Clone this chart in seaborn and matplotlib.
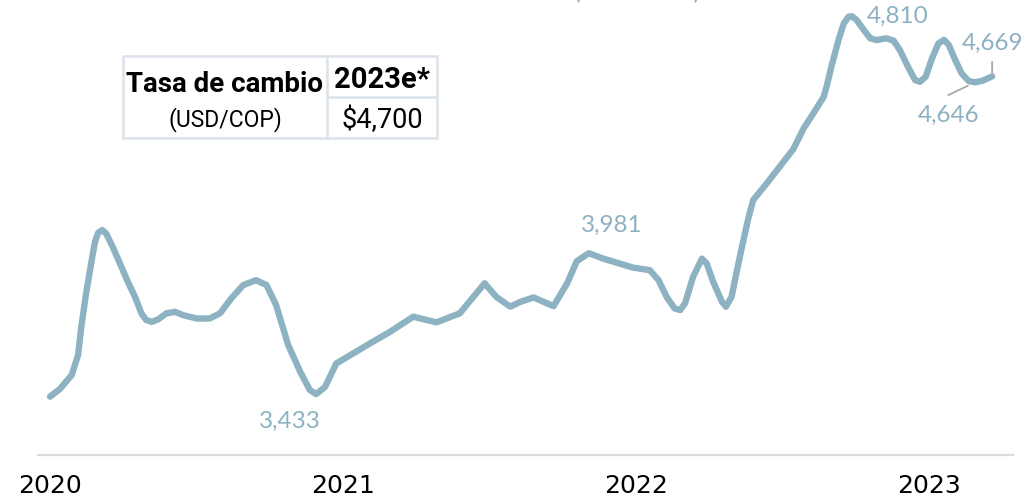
import matplotlib
matplotlib.use("Agg")
import matplotlib.pyplot as plt
import matplotlib.dates as mdates
from matplotlib.patches import Rectangle
from matplotlib.lines import Line2D
import pandas as pd
import seaborn as sns

# Tasa de cambio USD/COP (serie suavizada)
fechas = [
    "2020-01-01", "2020-01-13", "2020-01-28", "2020-02-05", "2020-02-09", "2020-02-15",
    "2020-02-22", "2020-02-26", "2020-03-01", "2020-03-06", "2020-03-11", "2020-03-20",
    "2020-03-30", "2020-04-07", "2020-04-16", "2020-04-24", "2020-04-30", "2020-05-07",
    "2020-05-15", "2020-05-25", "2020-06-05", "2020-06-15", "2020-07-02", "2020-07-18",
    "2020-07-31", "2020-08-14", "2020-08-29", "2020-09-14", "2020-09-27", "2020-10-09",
    "2020-10-24", "2020-11-08", "2020-11-20", "2020-11-28", "2020-12-09", "2020-12-23",
    "2021-01-13", "2021-02-03", "2021-02-28", "2021-03-29", "2021-04-27", "2021-05-26",
    "2021-06-26", "2021-07-11", "2021-07-28", "2021-08-09", "2021-08-26", "2021-09-20",
    "2021-10-07", "2021-10-19", "2021-11-03", "2021-11-21", "2021-12-28", "2022-01-18",
    "2022-01-29", "2022-02-08", "2022-02-18", "2022-02-25", "2022-03-03", "2022-03-13",
    "2022-03-24", "2022-03-30", "2022-04-07", "2022-04-18", "2022-04-23", "2022-04-30",
    "2022-05-06", "2022-05-13", "2022-05-21", "2022-05-27", "2022-06-13", "2022-07-16",
    "2022-07-29", "2022-08-10", "2022-08-23", "2022-08-27", "2022-09-02", "2022-09-11",
    "2022-09-17", "2022-09-23", "2022-09-27", "2022-10-03", "2022-10-12", "2022-10-20",
    "2022-10-28", "2022-11-09", "2022-11-18", "2022-11-26", "2022-12-07", "2022-12-15",
    "2022-12-21", "2022-12-28", "2023-01-05", "2023-01-13", "2023-01-20", "2023-01-26",
    "2023-02-03", "2023-02-11", "2023-02-20", "2023-02-28", "2023-03-09", "2023-03-21",
]
tasa = [
    3423, 3452, 3507, 3585, 3695, 3825,
    3954, 4025, 4060, 4071, 4058, 4000,
    3928, 3870, 3811, 3747, 3721, 3714,
    3724, 3747, 3753, 3740, 3727, 3727,
    3747, 3805, 3857, 3876, 3857, 3779,
    3624, 3520, 3449, 3433, 3461, 3552,
    3591, 3630, 3675, 3734, 3712, 3747,
    3864, 3810, 3773, 3791, 3809, 3775,
    3864, 3950, 3981, 3960, 3925, 3915,
    3876, 3811, 3766, 3760, 3786, 3889,
    3960, 3941, 3870, 3792, 3773, 3811,
    3903, 4006, 4118, 4188, 4253, 4386,
    4467, 4525, 4590, 4635, 4713, 4817,
    4875, 4901, 4903, 4888, 4849, 4817,
    4810, 4817, 4808, 4771, 4700, 4654,
    4648, 4667, 4739, 4797, 4811, 4791,
    4732, 4680, 4650, 4646, 4652, 4669,
]

anios = ["2020", "2021", "2022", "2023"]

# Puntos destacados
fechas_etiqueta = ["2020-11-28", "2021-11-03", "2022-10-28", "2023-02-28", "2023-03-21"]
valores_etiqueta = [3433, 3981, 4810, 4646, 4669]

tabla_titulo = "Tasa de cambio"
tabla_unidad = "(USD/COP)"
tabla_columna = "2023e*"
tabla_valor = "$4,700"

AZUL = "#8DB2C2"
GRIS_EJE = "#DADADA"
BORDE_TABLA = "#DCE2EA"
GRIS_GUIA = "#A9A9A9"

sns.set_style("white")
plt.rcParams["font.family"] = ["Lato", "DejaVu Sans"]

df = pd.DataFrame({"fecha": pd.to_datetime(fechas), "tasa": tasa})

W, H = 1035, 498
fig = plt.figure(figsize=(W / 100, H / 100), dpi=100)
ax = fig.add_axes([38 / W, 43 / H, 975 / W, 455 / H])

sns.lineplot(data=df, x="fecha", y="tasa", ax=ax, color=AZUL, linewidth=4.6,
             solid_capstyle="round", solid_joinstyle="round")

ax.set_xlim(mdates.date2num(pd.Timestamp("2019-12-17")),
            mdates.date2num(pd.Timestamp("2023-04-16")))
ax.set_ylim(3196, 4966)

ax.set_xticks([pd.Timestamp(f"{a}-01-01") for a in anios])
ax.set_xticklabels(anios, family=["Liberation Sans Narrow", "DejaVu Sans"],
                   fontsize=18, color="black")
ax.tick_params(axis="x", length=0, pad=14)
ax.set_yticks([])
ax.set_xlabel("")
ax.set_ylabel("")
for lado in ["top", "right", "left"]:
    ax.spines[lado].set_visible(False)
ax.spines["bottom"].set_color(GRIS_EJE)
ax.spines["bottom"].set_linewidth(1.6)

# Etiquetas de valores
desplazamientos = {
    3433: (-19.2, -19.4),
    3981: (16.3, 20.2),
    4810: (15.3, 17.3),
    4646: (-19.4, -23.6),
    4669: (0.0, 24.0),
}
for f, v in zip(fechas_etiqueta, valores_etiqueta):
    ax.annotate(f"{v:,}", xy=(pd.Timestamp(f), v), xytext=desplazamientos[v],
                textcoords="offset points", ha="center", va="center",
                fontsize=17.5, color=AZUL)

# Líneas guía para los dos últimos valores
ax.annotate("", xy=(pd.Timestamp("2023-02-28"), 4646), xytext=(-19.4, -9.2),
            textcoords="offset points",
            arrowprops=dict(arrowstyle="-", color=GRIS_GUIA, lw=1.3,
                            shrinkA=0, shrinkB=6))
ax.annotate("", xy=(pd.Timestamp("2023-03-21"), 4669), xytext=(0, 10.5),
            textcoords="offset points",
            arrowprops=dict(arrowstyle="-", color=GRIS_GUIA, lw=1.3,
                            shrinkA=0, shrinkB=1))

# Título superior (cortado por el borde)
fig.text(637.5 / W, 1 + 1 / H, "(USD/COP)", ha="center", va="baseline",
         fontsize=18, color=AZUL)

# Tabla de pronóstico
def fx(x):
    return x / W

def fy(y):
    return 1 - y / H

fig.add_artist(Rectangle((fx(123), fy(138)), (437 - 123) / W, (138 - 56) / H,
                         transform=fig.transFigure, fill=False,
                         edgecolor=BORDE_TABLA, linewidth=1.8))
fig.add_artist(Line2D([fx(327), fx(327)], [fy(56), fy(138)],
                      transform=fig.transFigure, color=BORDE_TABLA, linewidth=1.8))
fig.add_artist(Line2D([fx(327), fx(437)], [fy(97), fy(97)],
                      transform=fig.transFigure, color=BORDE_TABLA, linewidth=1.8))

fuente_tabla = ["Roboto", "DejaVu Sans"]
fig.text(fx(224), fy(91.7), tabla_titulo, ha="center", va="baseline",
         fontsize=20, fontweight="bold", family=fuente_tabla, color="black")
fig.text(fx(225), fy(126.7), tabla_unidad, ha="center", va="baseline",
         fontsize=16.5, family=fuente_tabla, color="black")
fig.text(fx(382), fy(88.3), tabla_columna, ha="center", va="baseline",
         fontsize=21, fontweight="bold", family=fuente_tabla, color="black")
fig.text(fx(382), fy(128.3), tabla_valor, ha="center", va="baseline",
         fontsize=19.5, family=fuente_tabla, color="black")

fig.savefig("out.png", dpi=100)
